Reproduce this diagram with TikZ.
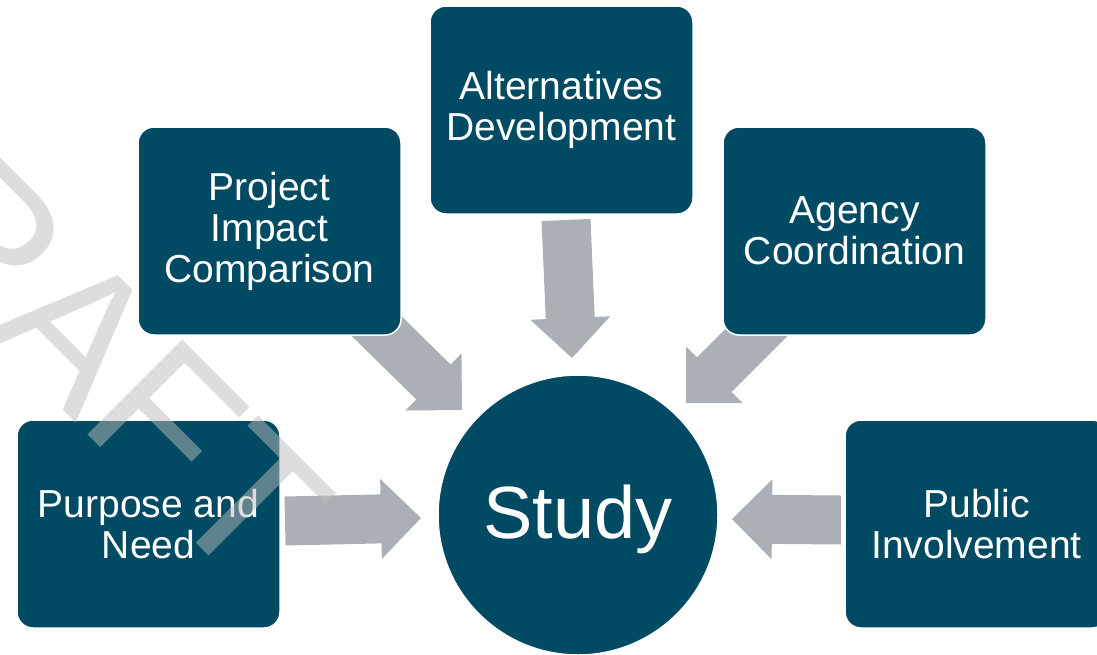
\documentclass[tikz,border=0pt]{standalone}
\usepackage{fontspec}
\setmainfont{Liberation Sans}
\usetikzlibrary{calc}
\definecolor{boxteal}{HTML}{004B63}
\definecolor{arrowgray}{HTML}{ABB0B7}
\definecolor{wmgray}{RGB}{188,188,188}
\tikzset{
  stepbox/.style={draw=white, line width=1.5pt, fill=boxteal, rounded corners=16pt,
    minimum width=263pt, minimum height=208pt, text=white, align=center,
    font=\fontsize{39}{41}\selectfont, inner sep=0pt},
  hub/.style={circle, draw=white, line width=1.5pt, fill=boxteal, minimum size=280pt,
    inner sep=0pt, text=white, font=\fontsize{74}{80}\selectfont,
    text height=53pt, text depth=7pt},
  blockarrow/.style={fill=arrowgray},
  watermark/.style={text=wmgray, text opacity=0.5, font=\fontsize{195}{195}\selectfont,
    rotate=-45, anchor=base west, inner sep=0pt}
}
\newcommand\blockarrowpath[2]{%
  \coordinate (hb) at ($(#2)!40pt!(#1)$);
  \fill[blockarrow] ($(#1)!24.5pt!90:(#2)$) -- ($(hb)!24.5pt!90:(#2)$)
    -- ($(hb)!40pt!90:(#2)$) -- (#2) -- ($(hb)!40pt!-90:(#2)$)
    -- ($(hb)!24.5pt!-90:(#2)$) -- ($(#1)!24.5pt!-90:(#2)$) -- cycle;}
\begin{document}
\begin{tikzpicture}[x=1pt,y=-1pt]
\useasboundingbox (0,0) rectangle (1097,654);
\clip (0,0) rectangle (1097,654);
\fill[white] (0,0) rectangle (1097,654);
% arrow end points
\coordinate (a1s) at (285,521); \coordinate (a1t) at (421,518);
\coordinate (a2s) at (350,300); \coordinate (a2t) at (462,410);
\coordinate (a3s) at (566,220); \coordinate (a3t) at (572,358);
\coordinate (a4s) at (775,314); \coordinate (a4t) at (686,403);
\coordinate (a5s) at (841,520); \coordinate (a5t) at (732,519);
\blockarrowpath{a1s}{a1t}
\blockarrowpath{a2s}{a2t}
\blockarrowpath{a3s}{a3t}
\blockarrowpath{a4s}{a4t}
\blockarrowpath{a5s}{a5t}
% boxes
\node[stepbox] (pn) at (148.5,524) {Purpose and\\Need};
\node[stepbox] (pic) at (269.5,231) {Project\\Impact\\Comparison};
\node[stepbox] (ad) at (561.5,110) {Alternatives\\Development};
\node[stepbox] (ac) at (854.5,231) {Agency\\Coordination};
\node[stepbox] (pi) at (976.5,524) {Public\\Involvement};
\node[hub] (study) at (578,515) {Study};
% watermark
\node[watermark] (wm) at (-214.5,132.5) {DRAFT};
\end{tikzpicture}
\end{document}
